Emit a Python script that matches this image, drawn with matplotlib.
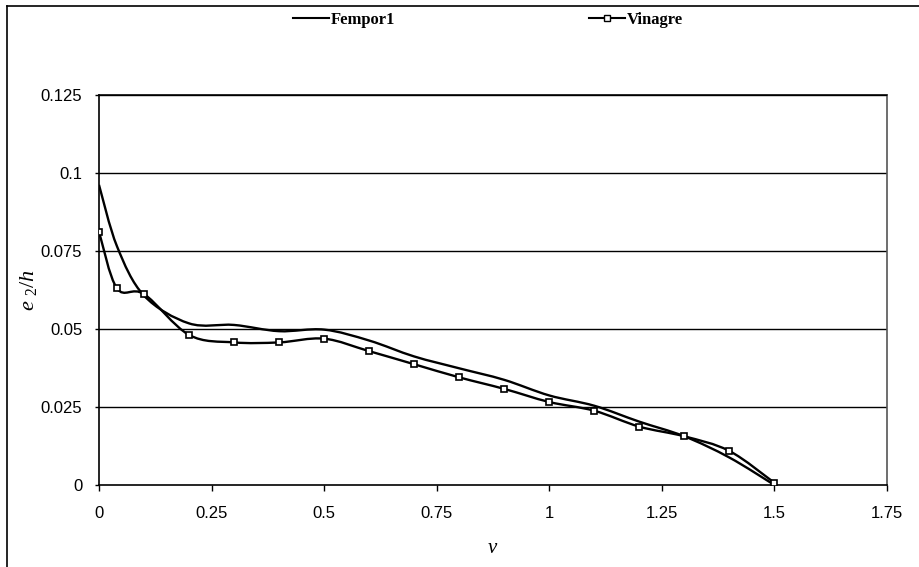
import numpy as np
import matplotlib
matplotlib.use("Agg")
import matplotlib.pyplot as plt
from matplotlib.path import Path
from matplotlib.patches import PathPatch
from matplotlib.lines import Line2D

# Fempor1 series (no markers)
fempor_v = [0.0, 0.04, 0.1, 0.2, 0.3, 0.4, 0.5, 0.6, 0.7, 0.8, 0.9, 1.0, 1.1, 1.2, 1.3, 1.4, 1.5]
fempor_e = [0.0962, 0.0765, 0.0607, 0.0518, 0.0513, 0.0493, 0.0498, 0.0463, 0.0412, 0.0374, 0.0337,
            0.0287, 0.0254, 0.0203, 0.0156, 0.0088, 0.0]

# Vinagre series (square markers)
vinagre_v = [0.0, 0.04, 0.1, 0.2, 0.3, 0.4, 0.5, 0.6, 0.7, 0.8, 0.9, 1.0, 1.1, 1.2, 1.3, 1.4, 1.5]
vinagre_e = [0.0812, 0.0630, 0.0612, 0.0481, 0.0457, 0.0457, 0.0469, 0.0429, 0.0387, 0.0345, 0.0308,
             0.0266, 0.0238, 0.0187, 0.0156, 0.0109, 0.0007]

xticks = [0, 0.25, 0.5, 0.75, 1, 1.25, 1.5, 1.75]
xtick_labels = ["0", "0.25", "0.5", "0.75", "1", "1.25", "1.5", "1.75"]
yticks = [0, 0.025, 0.05, 0.075, 0.1, 0.125]
ytick_labels = ["0", "0.025", "0.05", "0.075", "0.1", "0.125"]


def smooth_path(xs, ys):
    # spreadsheet-style smoothed line: cubic Bezier through every point
    p = np.column_stack([xs, ys])
    n = len(p)
    verts = [p[0]]
    codes = [Path.MOVETO]
    for i in range(n - 1):
        p0 = p[i - 1] if i > 0 else p[i]
        p1 = p[i]
        p2 = p[i + 1]
        p3 = p[i + 2] if i + 2 < n else p[i + 1]
        verts += [p1 + (p2 - p0) / 6.0, p2 - (p3 - p1) / 6.0, p2]
        codes += [Path.CURVE4] * 3
    return Path(verts, codes)


plt.rcParams['font.family'] = 'Liberation Sans'
plt.rcParams['mathtext.fontset'] = 'custom'
plt.rcParams['mathtext.rm'] = 'Liberation Serif'
plt.rcParams['mathtext.it'] = 'Liberation Serif:italic'

fig = plt.figure(figsize=(9.19, 5.67), dpi=100)
ax = fig.add_axes([0.1077, 0.1446, 0.8575, 0.6879])

ax.set_xlim(0, 1.75)
ax.set_ylim(0, 0.125)

for yv in yticks[1:]:
    ax.axhline(yv, color='black', lw=1.0, zorder=1)

ax.add_patch(PathPatch(smooth_path(fempor_v, fempor_e), fill=False, ec='black', lw=1.7, zorder=3))
ax.add_patch(PathPatch(smooth_path(vinagre_v, vinagre_e), fill=False, ec='black', lw=1.7, zorder=3))
ax.plot(vinagre_v, vinagre_e, ls='none', marker='s', ms=5, mfc='white', mec='black', mew=1.2, zorder=4)

ax.set_xticks(xticks)
ax.set_xticklabels(xtick_labels)
ax.set_yticks(yticks)
ax.set_yticklabels(ytick_labels)
ax.tick_params(axis='x', direction='out', length=4, width=1, pad=11, labelsize=12)
ax.tick_params(axis='y', direction='out', length=3, width=1, pad=9, labelsize=12)

for s in ['left', 'bottom', 'top']:
    ax.spines[s].set_color('black')
    ax.spines[s].set_linewidth(1.2)
ax.spines['right'].set_color('#555555')
ax.spines['right'].set_linestyle((0, (1, 1)))
ax.spines['right'].set_linewidth(1.2)

ax.set_xlabel('$v$', fontsize=15, labelpad=12)
ax.set_ylabel('$e\\ _{2}/h$', fontsize=16, labelpad=1)

handles = [Line2D([], [], color='black', lw=1.5),
           Line2D([], [], color='black', lw=1.5, marker='s', ms=4, mfc='white', mec='black')]
fig.legend(handles, ['Fempor1', 'Vinagre'], loc='center', bbox_to_anchor=(0.531, 0.965), ncol=2,
           frameon=False, handlelength=2.2, handletextpad=0.1, columnspacing=11.6,
           prop={'family': 'Liberation Serif', 'weight': 'bold', 'size': 12})

# outer border (left and top edges only)
fig.add_artist(Line2D([7 / 919, 7 / 919], [0, 1 - 6 / 567], transform=fig.transFigure, color='black', lw=1.2))
fig.add_artist(Line2D([7 / 919, 1], [1 - 6 / 567, 1 - 6 / 567], transform=fig.transFigure, color='black', lw=1.2))

fig.savefig('out.png', dpi=100)
